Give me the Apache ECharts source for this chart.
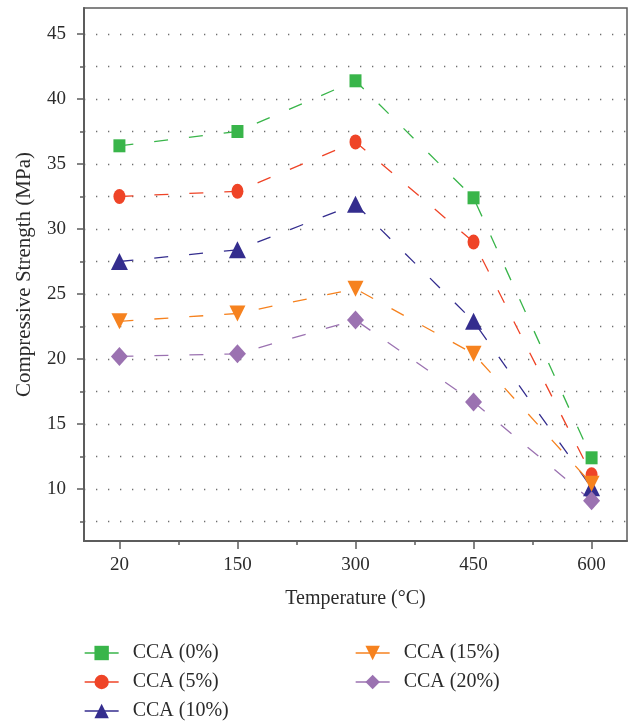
<!DOCTYPE html>
<html>
<head>
<meta charset="utf-8">
<script src="https://cdn.jsdelivr.net/npm/echarts@6/dist/echarts.min.js"></script>
<style>
  html, body { margin: 0; padding: 0; background: #fff; }
  #chart { width: 630px; height: 722px; }
</style>
</head>
<body>
<div id="chart"></div>
<script>
// Temperature categories (°C) and compressive strength (MPa) per CCA replacement level
const temperatures = ['20', '150', '300', '450', '600'];
const cca0  = [36.4, 37.5, 41.4, 32.4, 12.4];
const cca5  = [32.5, 32.9, 36.7, 29.0, 11.1];
const cca10 = [27.5, 28.4, 31.9, 22.9, 10.1];
const cca15 = [22.9, 23.5, 25.4, 20.4, 10.4];
const cca20 = [20.2, 20.4, 23.0, 16.7, 9.1];

const yMajor = [10, 15, 20, 25, 30, 35, 40, 45];
const yMinor = [7.5, 10, 12.5, 15, 17.5, 20, 22.5, 25, 27.5, 30, 32.5, 35, 37.5, 40, 42.5, 45];

const FONT = "'Liberation Serif', 'Times New Roman', serif";
const AXIS = '#5c5c5c';
const TEXT = '#2b2b2b';

const seriesDefs = [
  { name: 'CCA (0%)',  data: cca0,  color: '#39b54a', symbol: 'rect',     size: [12, 13], rotate: 0 },
  { name: 'CCA (5%)',  data: cca5,  color: '#ef4427', symbol: 'circle',   size: [12, 15], rotate: 0 },
  { name: 'CCA (10%)', data: cca10, color: '#342d8e', symbol: 'triangle', size: [17, 17], rotate: 0 },
  { name: 'CCA (15%)', data: cca15, color: '#f6821f', symbol: 'triangle', size: [16, 16], rotate: 180 },
  { name: 'CCA (20%)', data: cca20, color: '#9b72b1', symbol: 'diamond',  size: [17, 19], rotate: 0 }
];

// Legend: two columns, filled top to bottom (one legend entry per block)
const legendSlots = [
  { name: 'CCA (0%)',  left: 84,  top: 644 },
  { name: 'CCA (5%)',  left: 84,  top: 673 },
  { name: 'CCA (10%)', left: 84,  top: 702 },
  { name: 'CCA (15%)', left: 355, top: 644 },
  { name: 'CCA (20%)', left: 355, top: 673 }
];

const chart = echarts.init(document.getElementById('chart'), null, { renderer: 'canvas' });

chart.setOption({
  animation: false,
  backgroundColor: '#fff',
  grid: {
    left: 84, right: 3, top: 8, bottom: 181,
    show: true, borderColor: AXIS, borderWidth: 1.5,
    outerBoundsMode: 'none', containLabel: false
  },
  legend: legendSlots.map(s => ({
    data: [s.name],
    left: s.left,
    top: s.top - 1,
    padding: 0,
    itemWidth: 34,
    itemHeight: 18,
    selectedMode: false,
    lineStyle: { type: 'solid', width: 1.3 },
    textStyle: { fontFamily: FONT, fontSize: 20, color: TEXT, lineHeight: 18, padding: [0, 0, 0, 9] }
  })),
  xAxis: [
    {
      type: 'value', min: -0.3, max: 4.3,
      name: 'Temperature (°C)', nameLocation: 'middle', nameGap: 48,
      nameTextStyle: { fontFamily: FONT, fontSize: 20, color: TEXT },
      axisLine: { onZero: false, lineStyle: { color: AXIS, width: 2 } },
      axisTick: { customValues: [0, 1, 2, 3, 4], length: 8, lineStyle: { color: AXIS, width: 1.5 } },
      axisLabel: {
        customValues: [0, 1, 2, 3, 4], margin: 15,
        fontFamily: FONT, fontSize: 19, color: TEXT,
        formatter: v => temperatures[Math.round(v)]
      },
      splitLine: { show: false }
    },
    {
      type: 'value', min: -0.3, max: 4.3, position: 'bottom',
      axisLine: { show: false, onZero: false },
      axisTick: { customValues: [0.5, 1.5, 2.5, 3.5], length: 4, lineStyle: { color: AXIS, width: 1.5 } },
      axisLabel: { show: false },
      splitLine: { show: false }
    }
  ],
  yAxis: [
    {
      type: 'value', min: 6, max: 47,
      name: 'Compressive Strength (MPa)', nameLocation: 'middle', nameGap: 49,
      nameTextStyle: { fontFamily: FONT, fontSize: 21, color: TEXT },
      axisLine: { show: true, onZero: false, lineStyle: { color: AXIS, width: 2 } },
      axisTick: { show: true, customValues: yMajor, length: 7, lineStyle: { color: AXIS, width: 1.5 } },
      axisLabel: { customValues: yMajor, margin: 18, fontFamily: FONT, fontSize: 19, color: TEXT },
      splitLine: { show: false }
    },
    {
      type: 'value', min: 6, max: 47, position: 'left',
      axisLine: { show: false, onZero: false },
      axisTick: { show: true, customValues: yMinor, length: 4, lineStyle: { color: AXIS, width: 1.5 } },
      axisLabel: { show: false },
      splitLine: { show: true, lineStyle: { color: '#6e6e6e', width: 1.3, type: [1.3, 10.7] } }
    }
  ],
  series: seriesDefs.map(s => ({
    name: s.name,
    type: 'line',
    xAxisIndex: 0,
    yAxisIndex: 0,
    data: s.data.map((v, i) => [i, v]),
    symbol: s.symbol,
    symbolSize: s.size,
    symbolRotate: s.rotate,
    itemStyle: { color: s.color, opacity: 1 },
    lineStyle: { color: s.color, width: 1.3, type: [14, 21] },
    emphasis: { disabled: true }
  }))
});
</script>
</body>
</html>
